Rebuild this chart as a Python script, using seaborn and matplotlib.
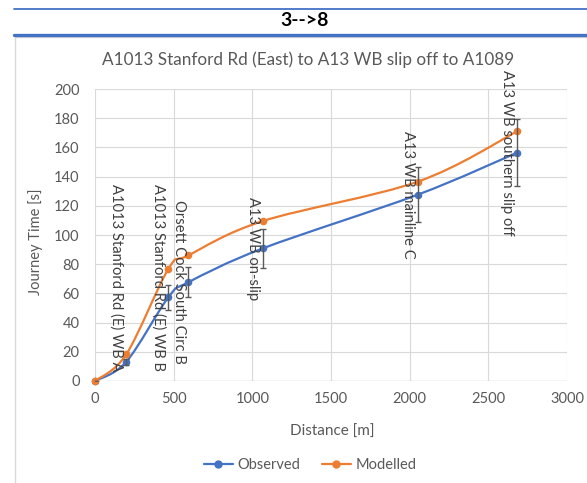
import numpy as np
import pandas as pd
import matplotlib
matplotlib.use("Agg")
import matplotlib.pyplot as plt
import seaborn as sns
from matplotlib.path import Path
from matplotlib.patches import PathPatch, Rectangle
from matplotlib.lines import Line2D

# Journey time along the route, cumulative per timing point
distance_m = [0, 199, 466, 593, 1068, 2051, 2683]
observed_s = [0, 13.2, 57.3, 67.6, 90.9, 127.6, 156.4]
modelled_s = [0, 18.3, 76.7, 86.0, 109.6, 136.5, 171.0]
observed_err = [0, 2.0, 8.7, 10.3, 13.5, 18.7, 23.0]
point_labels = ["", "A1013 Stanford Rd (E) WB A", "A1013 Stanford Rd (E) WB B",
                "Orsett Cock South Circ B", "A13 WB on-slip", "A13 WB mainline C",
                "A13 WB southern slip off"]
x_ticks = [0, 500, 1000, 1500, 2000, 2500, 3000]
y_ticks = [0, 20, 40, 60, 80, 100, 120, 140, 160, 180, 200]

BLUE = "#4472C4"
ORANGE = "#ED7D31"
GREY_TXT = "#595959"
GRID = "#D9D9D9"

sns.set_theme(style="white")
plt.rcParams["font.family"] = ["Lato", "DejaVu Sans"]

W, H = 587, 483
fig = plt.figure(figsize=(W / 100, H / 100), dpi=100)

# header band
fig.add_artist(Line2D([14 / W, 1], [1 - 8.5 / H] * 2, color=BLUE, lw=1.3))
fig.add_artist(Line2D([14 / W, 1], [1 - 34.5 / H] * 2, color=BLUE, lw=2.4))
fig.text(305 / W, 1 - 20 / H, "3-->8", ha="center", va="center",
         fontsize=14, fontweight="bold", color="black")

# chart area frame
fig.add_artist(Rectangle((15 / W, -0.05), 1.2, 1 - 36.5 / H + 0.05,
                         transform=fig.transFigure, fill=False,
                         edgecolor=GRID, lw=1.0))

fig.text(308 / W, 1 - 60 / H, "A1013 Stanford Rd (East) to A13 WB slip off to A1089",
         ha="center", va="center", fontsize=12.3, color=GREY_TXT)

ax = fig.add_axes([95 / W, (H - 381) / H, 472 / W, 292 / H])

df = pd.DataFrame({"Distance": distance_m, "Observed": observed_s,
                   "Modelled": modelled_s, "err": observed_err})


def smooth_path(x, y):
    pts = np.column_stack([x, y]).astype(float)
    n = len(pts)
    verts = [pts[0]]
    codes = [Path.MOVETO]
    for i in range(n - 1):
        p0 = pts[max(i - 1, 0)]
        p1 = pts[i]
        p2 = pts[i + 1]
        p3 = pts[min(i + 2, n - 1)]
        c1 = p1 + (p2 - p0) / 6.0
        c2 = p2 - (p3 - p1) / 6.0
        verts += [c1, c2, p2]
        codes += [Path.CURVE4] * 3
    return Path(verts, codes)


for col, color, z in [("Observed", BLUE, 3), ("Modelled", ORANGE, 4)]:
    ax.add_patch(PathPatch(smooth_path(df["Distance"], df[col]), fill=False,
                           edgecolor=color, lw=1.6, zorder=z, capstyle="round"))
    sns.scatterplot(data=df, x="Distance", y=col, ax=ax, color=color, s=30,
                    edgecolor=color, linewidth=0, zorder=z + 0.5, clip_on=False)

ax.errorbar(df["Distance"], df["Observed"], yerr=df["err"], fmt="none",
            ecolor=GREY_TXT, elinewidth=1.0, capsize=2.5, capthick=1.0, zorder=5)

ax.set_xlim(0, 3000)
ax.set_ylim(0, 200)
ax.set_xticks(x_ticks)
ax.set_yticks(y_ticks)
ax.grid(True, color=GRID, lw=0.8)
ax.set_axisbelow(True)
for s in ax.spines.values():
    s.set_visible(False)
ax.axhline(0, color=GRID, lw=1.0, zorder=1)
ax.tick_params(axis="both", length=0, labelsize=10.5, labelcolor=GREY_TXT)
ax.tick_params(axis="x", pad=8)
ax.tick_params(axis="y", pad=11)

ax.set_xlabel("Distance [m]", fontsize=11, color=GREY_TXT)
ax.set_ylabel("Journey Time [s]", fontsize=10.5, color=GREY_TXT)
ax.xaxis.set_label_coords(0.502, -0.151)
ax.yaxis.set_label_coords(-0.110, 0.476)

# rotated point labels, just left of each observed point
texts = []
for d, v, lab in zip(distance_m, observed_s, point_labels):
    if not lab:
        continue
    t = ax.annotate(lab, xy=(d, v), xytext=(-7.0, 0), textcoords="offset points",
                    rotation=270, ha="center", va="center", fontsize=10.6,
                    color="#404040", zorder=6, rotation_mode="anchor")
    texts.append(t)

fig.canvas.draw()
renderer = fig.canvas.get_renderer()
ax_bottom = ax.get_window_extent(renderer).y0
for t in texts:
    bb = t.get_window_extent(renderer)
    min_y = ax_bottom + 10
    if bb.y0 < min_y:
        shift = (min_y - bb.y0) * 72 / fig.dpi
        ox, oy = t.xyann
        t.xyann = (ox, oy + shift)

handles = [Line2D([0], [0], color=BLUE, lw=1.6, marker="o", ms=5),
           Line2D([0], [0], color=ORANGE, lw=1.6, marker="o", ms=5)]
fig.legend(handles, ["Observed", "Modelled"], loc="center",
           bbox_to_anchor=(310 / W, 1 - 465 / H), ncol=2, frameon=False,
           fontsize=10.5, labelcolor=GREY_TXT, handlelength=2.0,
           handletextpad=0.3, columnspacing=1.5)

fig.savefig("out.png", dpi=100)
